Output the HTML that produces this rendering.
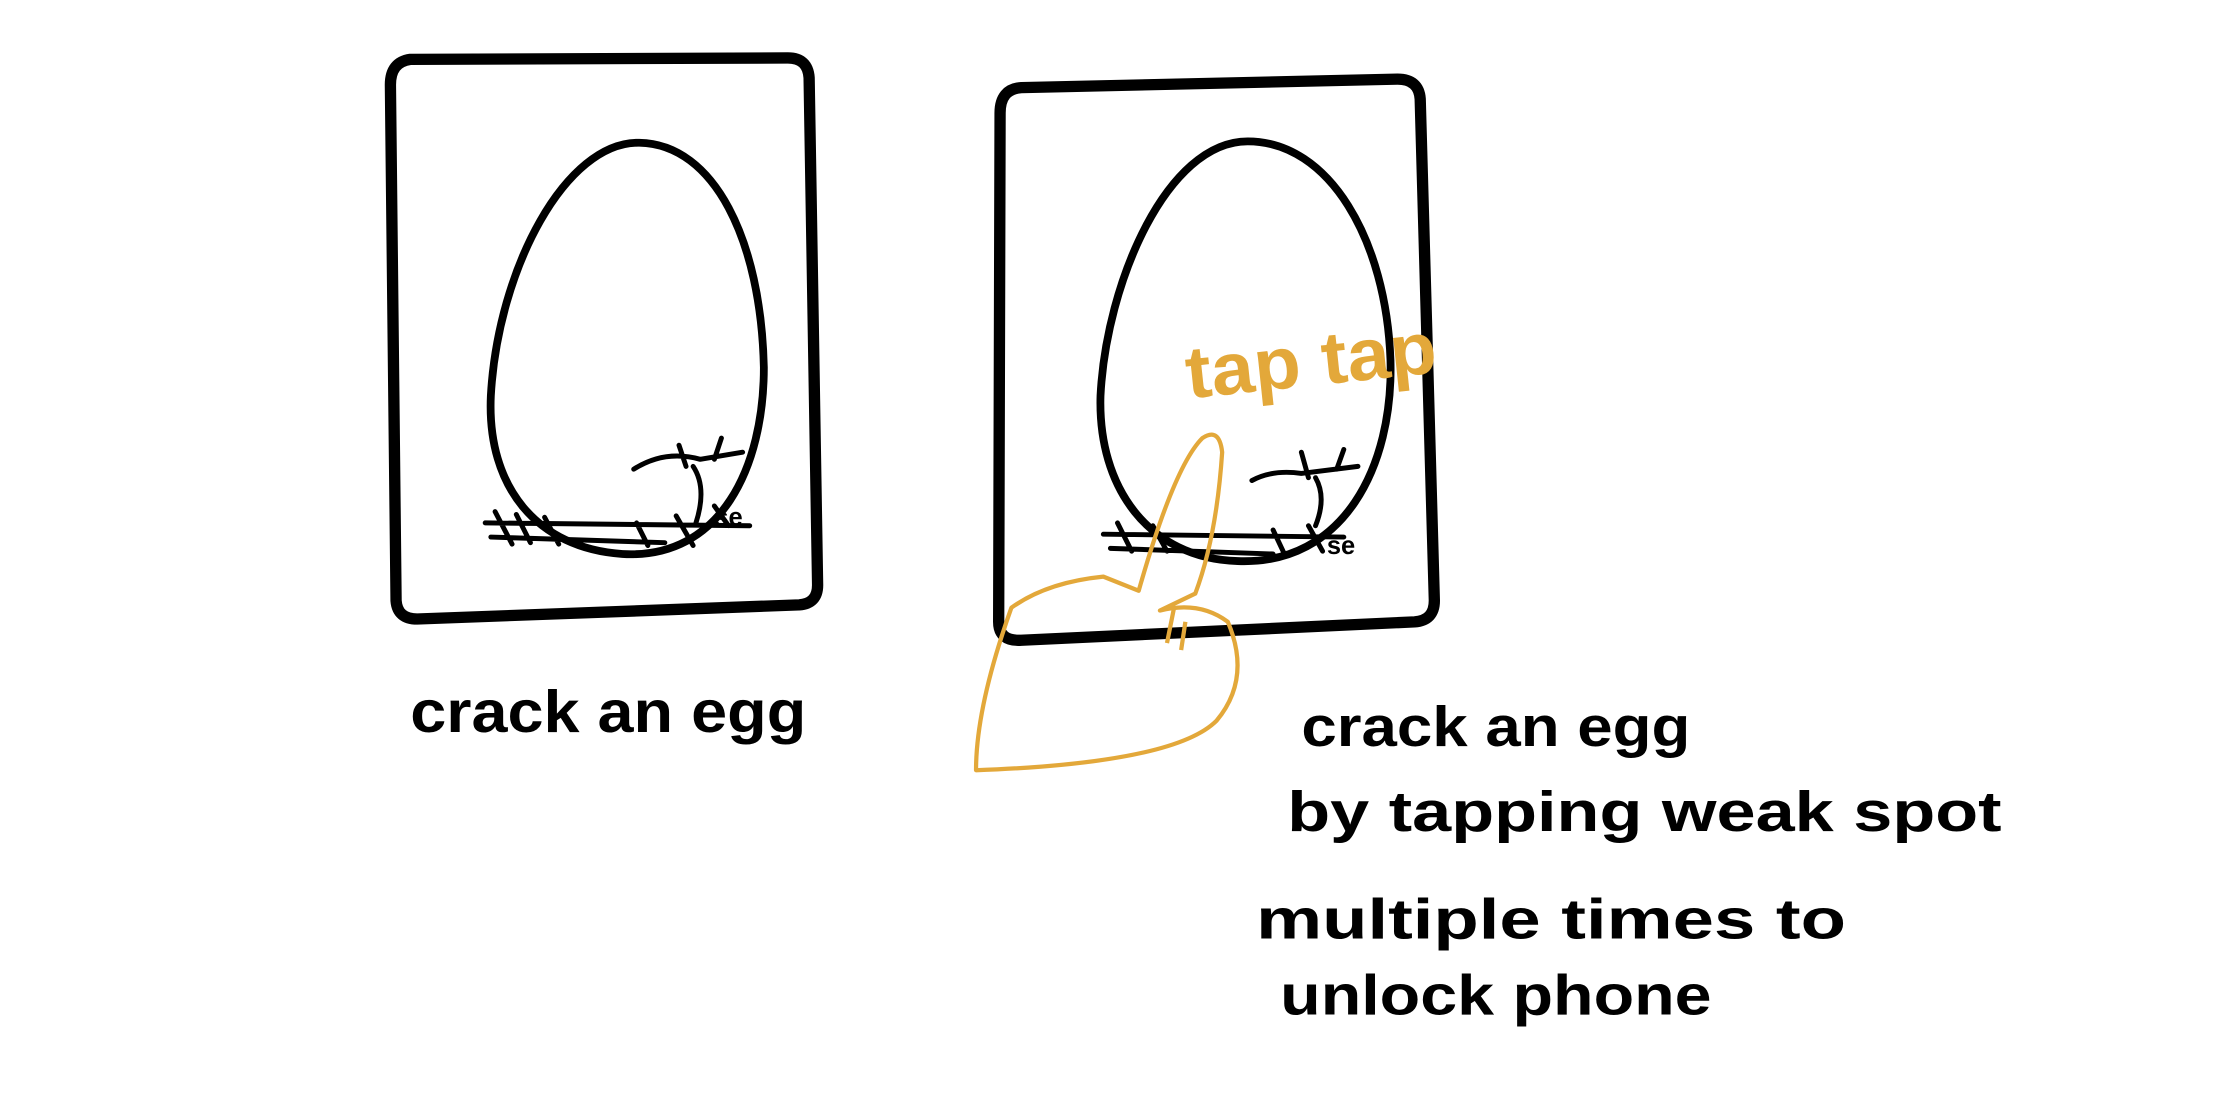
<!DOCTYPE html>
<html><head><meta charset="utf-8"><style>
html,body{margin:0;padding:0;background:#fff;}
svg{display:block}
.k{fill:none;stroke:#000;stroke-linecap:round;stroke-linejoin:round}
.hand{font-family:"Liberation Sans",sans-serif;fill:#000;font-weight:bold}
</style></head><body>
<svg width="2218" height="1108" viewBox="0 0 1568 784" preserveAspectRatio="none">
<rect width="1568" height="784" fill="#fff"/>
<g>
<path class="k" stroke-width="8" d="M290,42 Q276,44 276,60 L280,425 Q281,438 295,438 L565,428 Q578,427 578,414 L572,55 Q571,41 557,41 Z"/>
</g>
<g>
<path class="k" stroke-width="5.5" d="M452,101 C400,100 352,190 347,280 C344,345 380,388 440,392 C510,396 540,330 540,260 C538,170 505,102 452,101 Z"/>
<path class="k" stroke-width="3.5" d="M343,370 L530,372 M347,380 L470,384 M350,362 L362,385 M365,364 L375,384 M385,366 L395,385 M450,370 L458,386 M478,365 L490,386 M505,358 L515,372 M448,332 Q470,318 495,325 L525,320 M490,330 Q500,345 492,370 M480,315 L485,330 M510,310 L505,325"/>
<text class="hand" x="505" y="372" font-size="18">se</text>
</g>
<text class="hand" x="290" y="518" font-size="42" textLength="280" lengthAdjust="spacingAndGlyphs">crack an egg</text>
<g>
<path class="k" stroke-width="8" d="M722,62 Q707,63 707,80 L706,440 Q706,454 722,453 L1000,440 Q1014,439 1014,425 L1004,70 Q1003,56 988,56 Z"/>
</g>
<g>
<path class="k" stroke-width="5.5" d="M882,100 C825,100 782,200 778,280 C776,345 812,395 875,397 C950,400 985,330 983,255 C980,170 940,100 882,100 Z"/>
<path class="k" stroke-width="3.5" d="M780,378 L950,380 M785,388 L900,392 M790,370 L800,390 M815,372 L825,390 M900,375 L908,392 M925,372 L935,390 M885,340 Q900,332 920,335 L960,330 M930,338 Q938,352 930,372 M920,320 L925,338 M950,318 L945,332"/>
<text class="hand" x="938" y="392" font-size="18">se</text>
</g>
<g>
<path fill="none" stroke="#e3a83a" stroke-width="3" stroke-linejoin="round" d="M805,418 Q830,330 850,310 Q862,302 864,320 Q860,380 845,420 L820,432 Q848,425 868,440 Q885,480 860,510 Q830,540 690,545 Q690,500 715,430 Q740,412 780,408 Z"/>
<path fill="none" stroke="#e3a83a" stroke-width="3" d="M825,455 L830,430 M835,460 L838,440"/>
</g>
<text x="840" y="282" font-family="Liberation Sans, sans-serif" font-size="52" font-weight="bold" fill="#e3a83a" textLength="178" lengthAdjust="spacingAndGlyphs" transform="rotate(-6 840 282)">tap tap</text>
<g class="hand" font-size="40">
<text x="920" y="528" textLength="275" lengthAdjust="spacingAndGlyphs">crack an egg</text>
<text x="910" y="588" textLength="505" lengthAdjust="spacingAndGlyphs">by tapping weak spot</text>
<text x="888" y="664" textLength="417" lengthAdjust="spacingAndGlyphs">multiple times to</text>
<text x="905" y="718" textLength="305" lengthAdjust="spacingAndGlyphs">unlock phone</text>
</g>
</svg>
</body></html>
